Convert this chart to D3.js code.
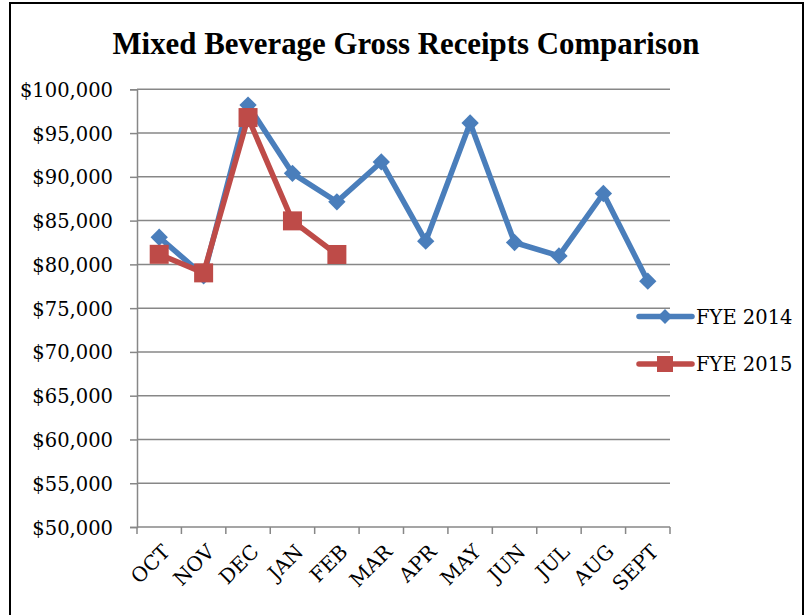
<!DOCTYPE html>
<html><head><meta charset="utf-8">
<script src="https://cdn.jsdelivr.net/npm/d3@7"></script>
<style>body{margin:0;background:#fff}svg{display:block}</style>
</head><body><svg id="c" width="809" height="615"></svg>
<script>
const months = ["OCT","NOV","DEC","JAN","FEB","MAR","APR","MAY","JUN","JUL","AUG","SEPT"];
const fye2014 = [83100,78700,98200,90400,87150,91700,82650,96150,82500,80970,88100,78080];
const fye2015 = [81150,79030,96770,84970,81130];
const yTicks = [50000,55000,60000,65000,70000,75000,80000,85000,90000,95000,100000];
const seriesNames = ["FYE 2014","FYE 2015"];
const colors = ["#4A7EBB","#BE4B48"];

const svg = d3.select("#c");
const serif = "'DejaVu Serif','Liberation Serif',serif";
const m = {l:137, r:670, t:89.3, b:527};

svg.append("rect").attr("x",10).attr("y",3).attr("width",793).attr("height",630)
  .attr("fill","#fff").attr("stroke","#000").attr("stroke-width",2);

svg.append("text").attr("x",406).attr("y",53.5).attr("text-anchor","middle")
  .attr("font-family","'Liberation Serif',serif").attr("font-weight","bold").attr("font-size",32)
  .attr("textLength",587).attr("lengthAdjust","spacingAndGlyphs")
  .text("Mixed Beverage Gross Receipts Comparison");

const x = d3.scaleBand().domain(months).range([m.l,m.r]);
const y = d3.scaleLinear().domain([50000,100000]).range([m.b,m.t]);

// gridlines
svg.append("g").selectAll("line").data(yTicks.filter(d=>d>50000)).join("line")
  .attr("x1",m.l).attr("x2",m.r).attr("y1",d=>y(d)).attr("y2",d=>y(d))
  .attr("stroke","#878787").attr("stroke-width",1.5);

const fmt = d=>"$"+d3.format(",")(d);
const ya = svg.append("g").attr("transform",`translate(${m.l},0)`)
  .call(d3.axisLeft(y).tickValues(yTicks).tickFormat(fmt).tickSize(7).tickPadding(17));
ya.select(".domain").attr("stroke","#878787").attr("stroke-width",1.5);
ya.selectAll(".tick line").attr("stroke","#878787").attr("stroke-width",1.5);
ya.selectAll("text").attr("font-family",serif).attr("font-size",19.5).attr("fill","#000").attr("dy","0.36em");

const xa = svg.append("g").attr("transform",`translate(0,${m.b})`);
xa.append("line").attr("x1",m.l).attr("x2",m.r).attr("stroke","#878787").attr("stroke-width",1.5);
xa.selectAll("line.t").data(d3.range(months.length+1)).join("line").attr("class","t")
  .attr("x1",i=>m.l+i*x.bandwidth()).attr("x2",i=>m.l+i*x.bandwidth())
  .attr("y1",0).attr("y2",7).attr("stroke","#878787").attr("stroke-width",1.5);
xa.selectAll("text").data(months).join("text")
  .attr("transform",d=>`translate(${x(d)+x.bandwidth()/2+12},${26}) rotate(-45)`)
  .attr("text-anchor","end")
  .attr("font-family",serif).attr("font-size",20).text(d=>d);

const cx = (d,i)=>x(months[i])+x.bandwidth()/2;
const line = d3.line().x((d,i)=>cx(d,i)).y(d=>y(d));

function drawSeries(data, color, marker){
  svg.append("path").datum(data).attr("d",line).attr("fill","none")
    .attr("stroke",color).attr("stroke-width",5.5).attr("stroke-linejoin","round");
  const g = svg.append("g");
  data.forEach((d,i)=>{
    if(marker==="diamond"){
      g.append("path").attr("d",d3.symbol().type(d3.symbolSquare).size(150)())
        .attr("transform",`translate(${cx(d,i)},${y(d)}) rotate(45)`).attr("fill",color);
    } else {
      g.append("rect").attr("x",cx(d,i)-9.5).attr("y",y(d)-9.5).attr("width",19).attr("height",19).attr("fill",color);
    }
  });
}
drawSeries(fye2014, colors[0], "diamond");
drawSeries(fye2015, colors[1], "square");

// legend
const lg = svg.append("g");
[316.5,364].forEach((ly,i)=>{
  lg.append("line").attr("x1",639).attr("x2",692).attr("y1",ly).attr("y2",ly)
    .attr("stroke",colors[i]).attr("stroke-width",5.5).attr("stroke-linecap","round");
  if(i===0){
    lg.append("path").attr("d",d3.symbol().type(d3.symbolSquare).size(110)())
      .attr("transform",`translate(665,${ly}) rotate(45)`).attr("fill",colors[i]);
  } else {
    lg.append("rect").attr("x",657).attr("y",ly-8).attr("width",16).attr("height",16).attr("fill",colors[i]);
  }
  lg.append("text").attr("x",696).attr("y",ly).attr("dy","0.36em")
    .attr("font-family",serif).attr("font-size",19.5).text(seriesNames[i]);
});
</script></body></html>
